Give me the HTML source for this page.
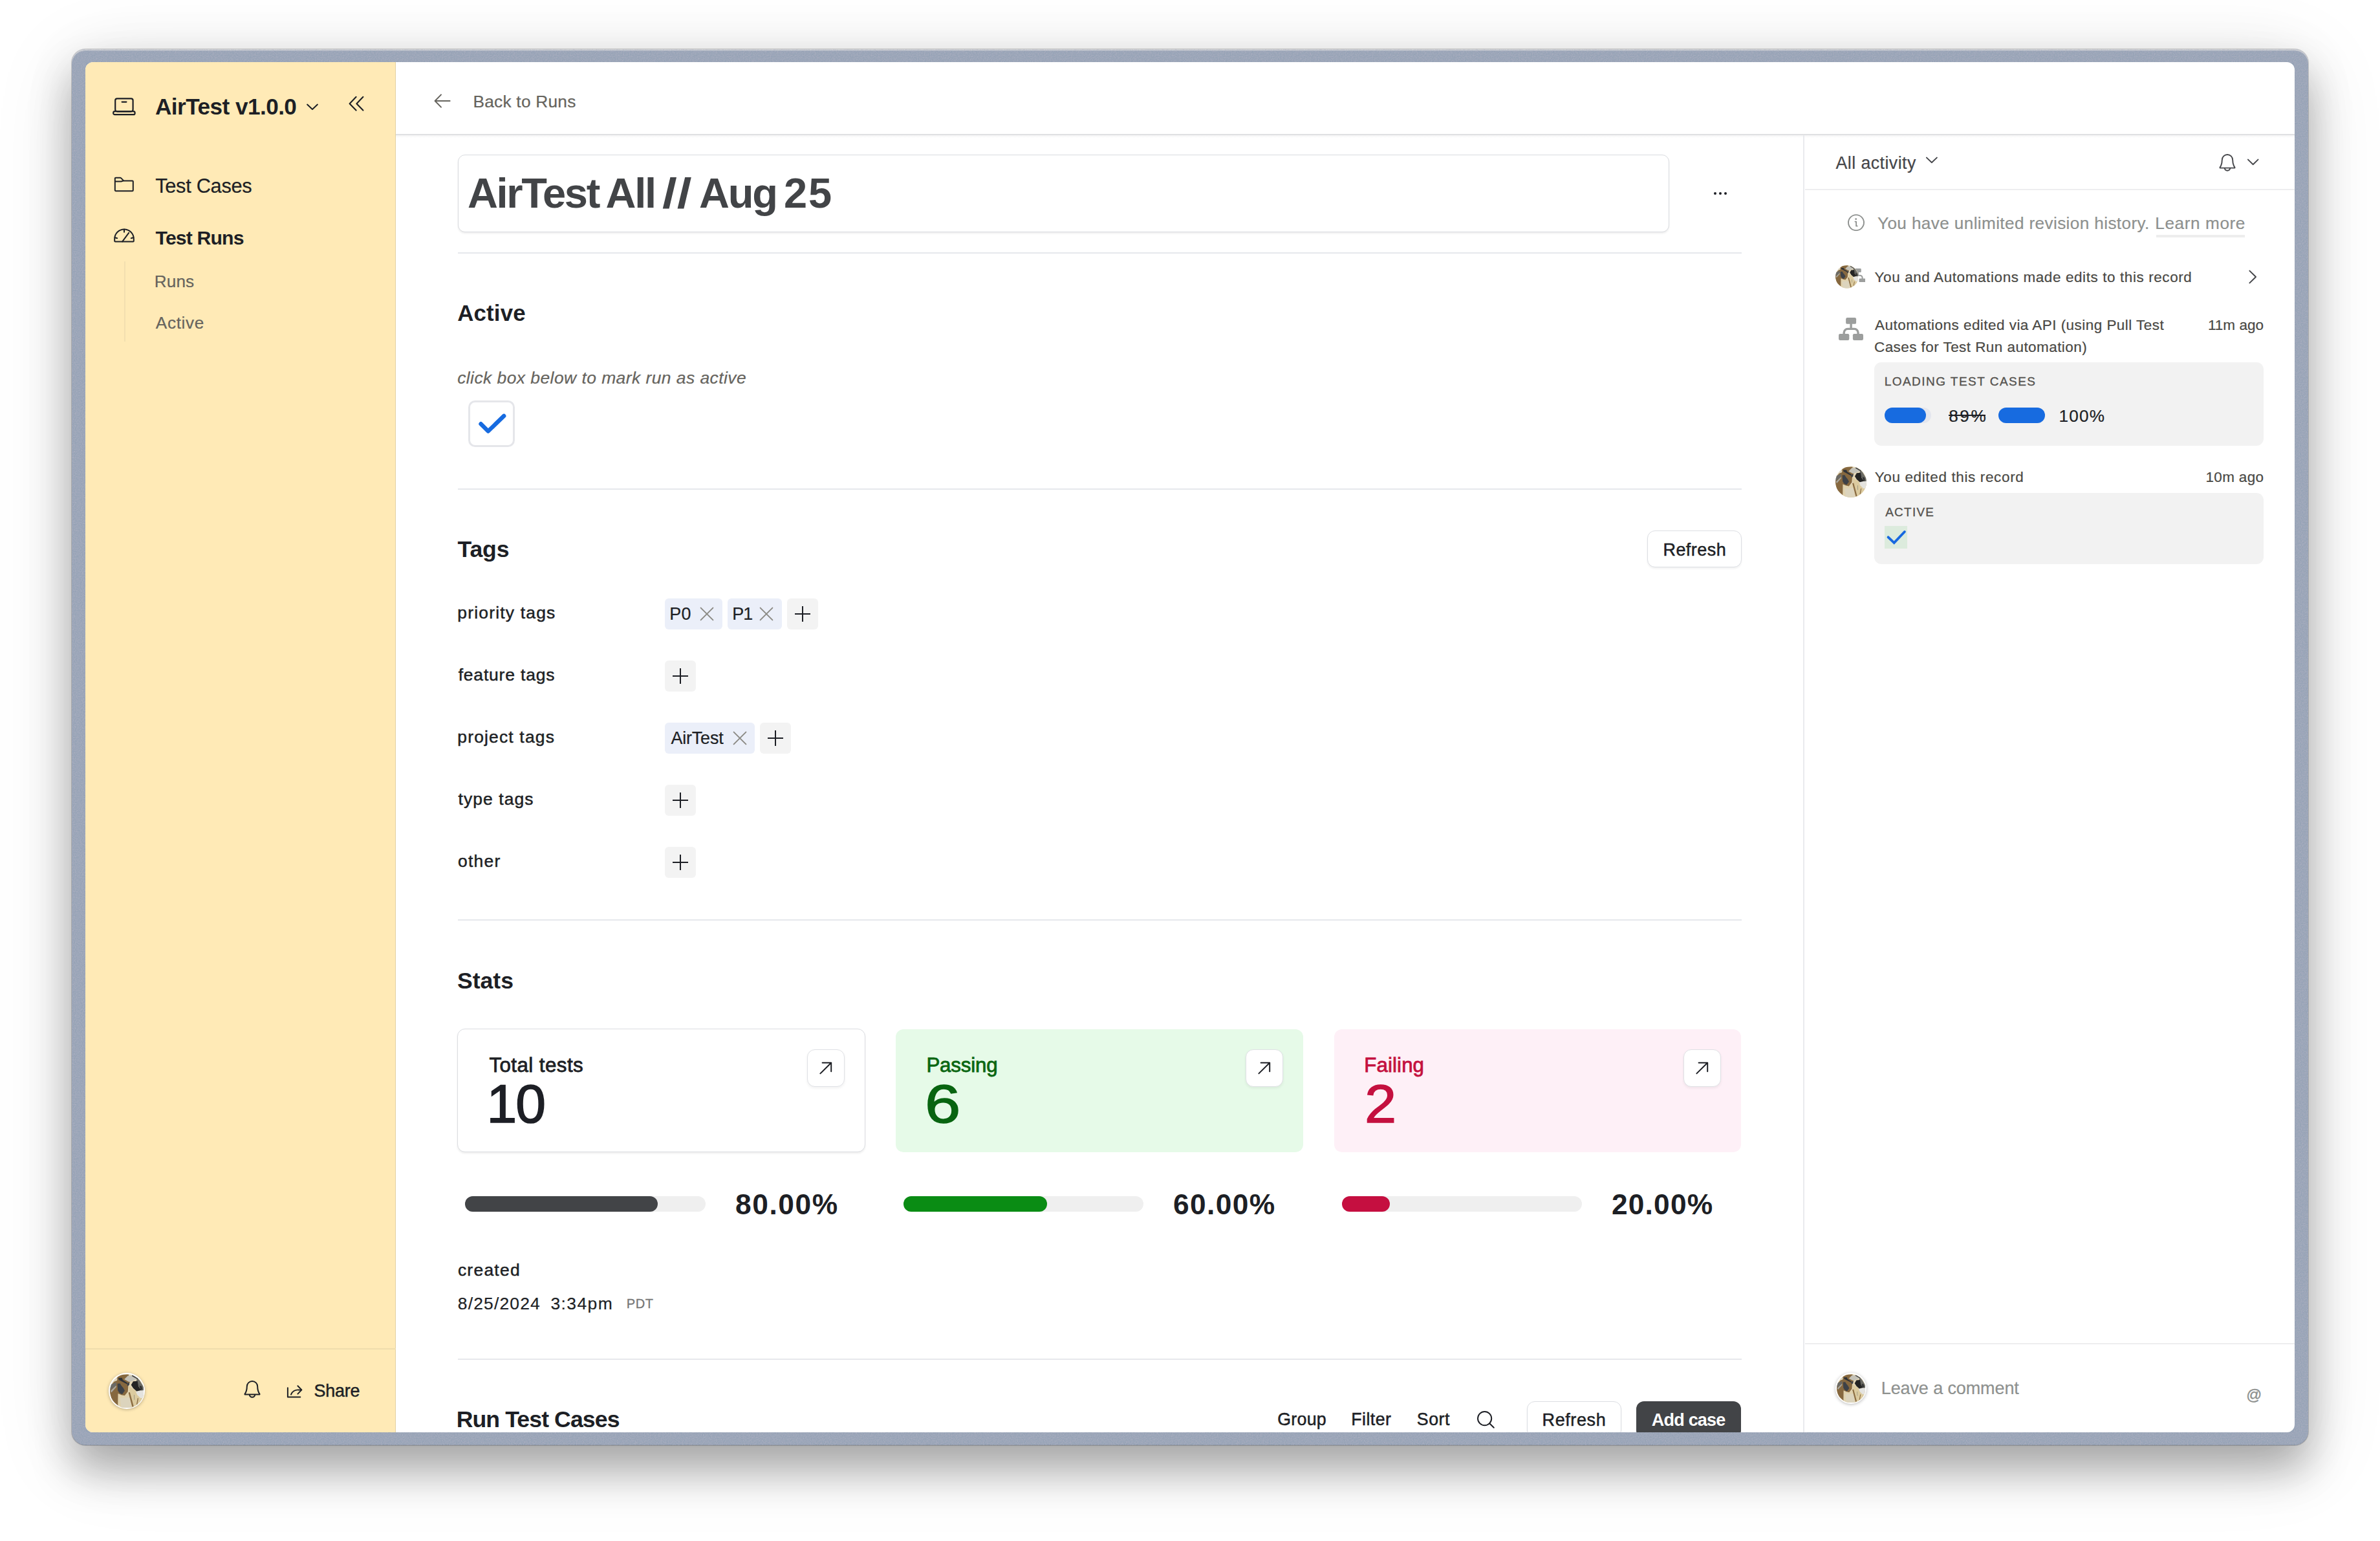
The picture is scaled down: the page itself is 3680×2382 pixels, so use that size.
<!DOCTYPE html>
<html lang="en"><head><meta charset="utf-8"><title>AirTest All // Aug 25</title>
<style>
html,body{margin:0;padding:0;background:#fff;}
body{width:3680px;height:2382px;position:relative;overflow:hidden;font-family:"Liberation Sans",sans-serif;}
.win{position:absolute;left:111px;top:76px;width:3458px;height:2158px;background:#96a3b6;border-radius:21px;
 box-shadow:0 0 0 1px rgba(0,0,0,.16),0 40px 64px rgba(0,0,0,.27),0 8px 90px rgba(0,0,0,.06),0 22px 130px rgba(0,0,0,.10);}
.win:before{content:"";position:absolute;left:0;top:0;right:0;bottom:0;border-radius:21px;box-shadow:inset 0 2.2px 0 rgba(222,222,222,.8),inset 0 -1px 0 rgba(0,0,0,.12);}
.nz{position:absolute;left:0;top:0;width:100%;height:100%;border-radius:21px;overflow:hidden;opacity:.8;}
.app{position:absolute;left:132px;top:96px;width:3416px;height:2118px;border-radius:12px;overflow:hidden;background:#fff;}
.g{position:absolute;left:-132px;top:-96px;width:3680px;height:2382px;}
.r{position:absolute;box-sizing:border-box;}
.t{position:absolute;white-space:pre;line-height:1;}
.w{position:static;font-size:0;}
</style></head><body>
<div class="win"><svg class="nz" width="3458" height="2158"><defs><filter id="nzf" x="0" y="0" width="100%" height="100%"><feTurbulence type="fractalNoise" baseFrequency="0.55" numOctaves="2" seed="7" result="n"/><feColorMatrix type="matrix" values="0 0 0 0 0.45  0 0 0 0 0.45  0 0 0 0 0.55  0.9 0.9 0.9 0 -1.05"/></filter></defs><rect x="0" y="0" width="3458" height="21" filter="url(#nzf)"/><rect x="0" y="2137" width="3458" height="21" filter="url(#nzf)"/><rect x="0" y="21" width="22" height="2116" filter="url(#nzf)"/><rect x="3436" y="21" width="22" height="2116" filter="url(#nzf)"/></svg></div>
<div class="app"><div class="g">
<div class="r" style="left:132.00px;top:96.00px;width:480.00px;height:2118.00px;background:#ffeab6;"></div>
<div class="r" style="left:611.00px;top:96.00px;width:1.20px;height:2118.00px;background:#e3d1a3;"></div>
<div class="r" style="left:132.00px;top:2084.30px;width:480.00px;height:1.40px;background:#efddad;"></div>
<svg width="0" height="0" style="position:absolute"><defs><clipPath id="avc"><circle cx="770" cy="787" r="516"/></clipPath></defs></svg>
<svg class="r" style="left:170.00px;top:146.00px;" width="44" height="36" viewBox="0 0 44 36" fill="none"><rect x="8.2" y="6.3" width="27.4" height="20" rx="3" stroke="#1d1f25" stroke-width="2.2"/><rect x="5.2" y="26.2" width="33.4" height="5" rx="2.3" stroke="#1d1f25" stroke-width="2.2"/><path d="M18.6 11.6h6.8" stroke="#1d1f25" stroke-width="2.2" stroke-linecap="round"/></svg>
<span class="t" style="left:240.04px;top:147.30px;font-size:35.17px;letter-spacing:-0.550px;color:#1d1f25;font-weight:700;">AirTest v1.0.0</span>
<svg class="r" style="left:470.00px;top:156.00px;" width="26" height="18" viewBox="0 0 26 18" fill="none"><path d="M5.1 5.6l7.9 7.3 7.9-7.3" stroke="#1d1f25" stroke-width="2" stroke-linecap="round" stroke-linejoin="round"/></svg>
<svg class="r" style="left:536.00px;top:145.00px;" width="30" height="30" viewBox="0 0 30 30" fill="none"><path d="M14.6 4.8L4.6 15.2l10 10.4M25.4 4.8L15.4 15.2l10 10.4" stroke="#1d1f25" stroke-width="2.1" stroke-linecap="round" stroke-linejoin="round"/></svg>
<svg class="r" style="left:172.00px;top:268.00px;" width="40" height="32" viewBox="0 0 40 32" fill="none"><path d="M5.8 9.6V26a1.2 1.2 0 0 0 1.2 1.2h25.6a1.2 1.2 0 0 0 1.2-1.2V12.6a1.2 1.2 0 0 0-1.2-1.2H19.2l-4.2-4.3a1.4 1.4 0 0 0-1-.4H7a1.2 1.2 0 0 0-1.2 1.2z" stroke="#1d1f25" stroke-width="2" stroke-linejoin="round"/><path d="M5.8 12.6h9.2a1.4 1.4 0 0 0 1-.4l3.2-.8" stroke="#1d1f25" stroke-width="2" stroke-linejoin="round"/></svg>
<span class="t" style="left:240.22px;top:273.10px;font-size:30.81px;letter-spacing:-0.315px;color:#1d1f25;-webkit-text-stroke:0.22px #1d1f25;">Test Cases</span>
<svg class="r" style="left:172.00px;top:348.00px;" width="40" height="30" viewBox="0 0 40 30" fill="none"><path d="M5.2 24.6v-3.4a14.8 14.8 0 0 1 29.6 0v3.4a1 1 0 0 1-1 1H6.2a1 1 0 0 1-1-1z" stroke="#1d1f25" stroke-width="2" stroke-linejoin="round"/><path d="M20 6.6v4.2M5.6 19.2l3.6 1M34.4 19.2l-3.6 1M17.2 25.4l10-13.6" stroke="#1d1f25" stroke-width="2" stroke-linecap="round"/></svg>
<span class="t" style="left:240.57px;top:353.00px;font-size:30.23px;letter-spacing:-0.867px;color:#1d1f25;font-weight:700;">Test Runs</span>
<div class="r" style="left:192.00px;top:404.20px;width:1.50px;height:123.60px;background:#f2dfaf;"></div>
<span class="t" style="left:238.75px;top:421.70px;font-size:26.16px;letter-spacing:0.103px;color:#66645e;-webkit-text-stroke:0.22px #66645e;">Runs</span>
<span class="t" style="left:240.86px;top:486.30px;font-size:26.16px;letter-spacing:0.650px;color:#66645e;-webkit-text-stroke:0.22px #66645e;">Active</span>
<div class="r" style="left:167.95px;top:2121.75px;width:56.50px;height:56.50px;border-radius:50%;background:#fff;box-shadow:0 1px 5px rgba(0,0,0,.28);"></div>
<svg class="r" style="left:169.95px;top:2123.75px" width="52.50" height="52.50" viewBox="254 271 1032 1032"><circle cx="770" cy="787" r="516" fill="#e3d6b6"/><g clip-path="url(#avc)"><polygon points="500,860 900,840 960,1320 480,1320" fill="#e0d2ae"/><polygon points="820,640 1060,790 1300,780 1300,1000 1150,1200 950,1300 880,1000" fill="#dccb9f"/><polygon points="1040,800 1300,740 1300,1000 1180,1000 1080,900" fill="#e4e3df"/><polygon points="560,1000 860,980 900,1300 600,1300" fill="#d9d6cb" opacity=".55"/><polygon points="520,290 820,280 860,500 810,640 800,800 700,925 600,905 500,860 495,1230 300,1050 240,800 330,560 450,420" fill="#86683f"/><polygon points="240,600 450,520 445,620 250,760" fill="#6b6a66"/><polygon points="270,780 440,620 450,660 300,830" fill="#a9a9a3"/><polygon points="690,430 800,320 1010,320 1060,430 900,490 830,505" fill="#c4c2b8"/><polygon points="360,440 480,400 470,470 370,500" fill="#ddd6c0"/><polygon points="480,560 560,555 600,620 665,700 705,775 625,885 545,845 492,765" fill="#3d4147"/><polygon points="510,385 620,385 645,450 790,540 770,575 600,485 520,445" fill="#2f3237"/><polygon points="770,560 850,520 840,600 790,640" fill="#3d4147"/><polygon points="1080,380 1160,470 1300,700 1300,760 1200,770 1100,600 1060,480" fill="#6a6a64"/><polygon points="960,490 1092,480 1120,640 1200,760 1065,792 960,700 898,600" fill="#242424"/><polygon points="1150,620 1220,640 1240,740 1180,760" fill="#333"/><polygon points="930,300 1100,400 1090,430 920,330" fill="#3a3a3a"/><polygon points="815,830 860,820 975,1250 930,1270" fill="#8a6c42"/><polygon points="1060,1190 1095,1000 1120,1010 1085,1200" fill="#8a6c42"/><polygon points="985,900 1000,900 1005,1050 990,1050" fill="#8d8a7c"/></g></svg>
<svg class="r" style="left:374.00px;top:2129.40px;" width="32" height="34" viewBox="0 0 32 34" fill="none"><path d="M4.6 25.6c2.6-3.6 3.2-7 3.2-11.4a8.2 8.2 0 0 1 16.4 0c0 4.4.6 7.8 3.2 11.4a.6.6 0 0 1-.5 1H5.1a.6.6 0 0 1-.5-1z" stroke="#1d1f25" stroke-width="2.0" stroke-linejoin="round"/><path d="M11.8 27.4a4.3 4.3 0 0 0 8.4 0" stroke="#1d1f25" stroke-width="2.0" stroke-linecap="round"/></svg>
<svg class="r" style="left:440.00px;top:2136.00px;" width="32" height="28" viewBox="0 0 32 28" fill="none"><path d="M4.9 9.3V23.5H24.3" stroke="#1d1f25" stroke-width="2" stroke-linecap="round" stroke-linejoin="round"/><path d="M20.4 6.2l6 6.2-6 6.2" stroke="#1d1f25" stroke-width="2" stroke-linecap="round" stroke-linejoin="round"/><path d="M25.8 12.4h-4.4a11.6 11.6 0 0 0-11.4 7.2" stroke="#1d1f25" stroke-width="2" stroke-linecap="round"/></svg>
<span class="t" style="left:485.59px;top:2137.11px;font-size:26.89px;letter-spacing:-0.215px;color:#1d1f25;-webkit-text-stroke:0.5px #1d1f25;">Share</span>
<div class="r" style="left:612.00px;top:207.40px;width:2936.00px;height:1.80px;background:#e0e1e3;"></div>
<div class="r" style="left:612.00px;top:209.20px;width:2936.00px;height:4.00px;background:linear-gradient(#f3f3f4,#fff);"></div>
<svg class="r" style="left:668.00px;top:142.00px;" width="32" height="28" viewBox="0 0 32 28" fill="none"><path d="M27.6 14H5.2M14 4.4L4.6 14l9.4 9.6" stroke="#66645e" stroke-width="2" stroke-linecap="round" stroke-linejoin="round"/></svg>
<span class="t" style="left:731.44px;top:143.81px;font-size:26.31px;letter-spacing:0.231px;color:#66645e;-webkit-text-stroke:0.22px #66645e;">Back to Runs</span>
<div class="r" style="left:707.60px;top:239.30px;width:1873.60px;height:119.50px;background:#fff;border:1.6px solid #d9dbdf;border-radius:11px;box-shadow:0 2px 3px rgba(0,0,0,.07);"></div>
<span class="w"><span class="t" style="left:722.91px;top:267.10px;font-size:64.97px;letter-spacing:-2.274px;color:#424447;font-weight:700;">AirTest</span> <span class="t" style="left:936.61px;top:267.10px;font-size:64.97px;letter-spacing:-2.274px;color:#424447;font-weight:700;">All</span> <span class="t" style="left:1023.72px;top:267.10px;font-size:64.97px;letter-spacing:0.000px;color:#424447;font-weight:700;transform:scaleX(1.2640);transform-origin:0 0;">//</span> <span class="t" style="left:1081.11px;top:267.10px;font-size:64.97px;letter-spacing:-2.274px;color:#424447;font-weight:700;">Aug</span> <span class="t" style="left:1212.06px;top:267.10px;font-size:64.97px;letter-spacing:1.881px;color:#424447;font-weight:700;">25</span></span>
<div class="r" style="left:2649.90px;top:296.90px;width:4.00px;height:4.00px;background:#1d1f25;border-radius:50%;"></div>
<div class="r" style="left:2657.90px;top:296.90px;width:4.00px;height:4.00px;background:#1d1f25;border-radius:50%;"></div>
<div class="r" style="left:2665.90px;top:296.90px;width:4.00px;height:4.00px;background:#1d1f25;border-radius:50%;"></div>
<div class="r" style="left:708.00px;top:390.00px;width:1984.50px;height:2.00px;background:#e6e8ec;"></div>
<div class="r" style="left:708.00px;top:755.00px;width:1984.50px;height:2.00px;background:#e6e8ec;"></div>
<div class="r" style="left:708.00px;top:1420.50px;width:1984.50px;height:2.00px;background:#e6e8ec;"></div>
<div class="r" style="left:708.00px;top:2100.00px;width:1984.50px;height:2.00px;background:#e6e8ec;"></div>
<span class="t" style="left:707.15px;top:467.30px;font-size:34.88px;letter-spacing:0.167px;color:#1d1f25;font-weight:700;">Active</span>
<span class="t" style="left:707.14px;top:570.80px;font-size:26.45px;letter-spacing:0.446px;color:#66645e;font-style:italic;-webkit-text-stroke:0.22px #66645e;">click box below to mark run as active</span>
<div class="r" style="left:724.00px;top:619.00px;width:72.00px;height:72.00px;background:#fff;border:3.5px solid #e5e6ea;border-radius:10.5px;"></div>
<svg class="r" style="left:730.00px;top:625.00px;" width="60" height="60" viewBox="0 0 60 60" fill="none"><path d="M13.5 30.2L24.8 41.5 49.2 17.9" stroke="#176be0" stroke-width="6.4" stroke-linecap="round" stroke-linejoin="round"/></svg>
<span class="t" style="left:707.61px;top:832.30px;font-size:35.61px;letter-spacing:-0.209px;color:#1d1f25;font-weight:700;">Tags</span>
<div class="r" style="left:2547.30px;top:820.30px;width:145.30px;height:57.00px;background:#fff;border:1.6px solid #dcdee3;border-radius:12px;box-shadow:0 2px 3px rgba(0,0,0,.06);"></div>
<span class="t" style="left:2571.48px;top:837.10px;font-size:27.03px;letter-spacing:0.433px;color:#1d1f25;-webkit-text-stroke:0.5px #1d1f25;">Refresh</span>
<span class="t" style="left:707.31px;top:933.71px;font-size:26.45px;letter-spacing:1.193px;color:#1d1f25;-webkit-text-stroke:0.5px #1d1f25;">priority tags</span>
<span class="t" style="left:708.63px;top:1029.71px;font-size:26.45px;letter-spacing:0.837px;color:#1d1f25;-webkit-text-stroke:0.5px #1d1f25;">feature tags</span>
<span class="t" style="left:707.31px;top:1125.71px;font-size:26.45px;letter-spacing:1.172px;color:#1d1f25;-webkit-text-stroke:0.5px #1d1f25;">project tags</span>
<span class="t" style="left:708.60px;top:1221.71px;font-size:26.45px;letter-spacing:1.063px;color:#1d1f25;-webkit-text-stroke:0.5px #1d1f25;">type tags</span>
<span class="t" style="left:707.90px;top:1317.71px;font-size:26.45px;letter-spacing:1.308px;color:#1d1f25;-webkit-text-stroke:0.5px #1d1f25;">other</span>
<div class="r" style="left:1028.00px;top:925.00px;width:89.00px;height:47.80px;background:#ebeff9;border-radius:6px;"></div>
<span class="t" style="left:1035.30px;top:936.31px;font-size:26.89px;letter-spacing:0.254px;color:#1d1f25;-webkit-text-stroke:0.22px #1d1f25;">P0</span>
<svg class="r" style="left:1080.40px;top:935.90px;" width="26" height="26" viewBox="0 0 26 26" fill="none"><path d="M3.6 3.6l18.8 18.8M22.4 3.6L3.6 22.4" stroke="#8b8a84" stroke-width="1.9" stroke-linecap="round"/></svg>
<div class="r" style="left:1125.00px;top:925.00px;width:84.20px;height:47.80px;background:#ebeff9;border-radius:6px;"></div>
<span class="t" style="left:1132.30px;top:936.31px;font-size:26.89px;letter-spacing:-0.941px;color:#1d1f25;-webkit-text-stroke:0.22px #1d1f25;">P1</span>
<svg class="r" style="left:1172.10px;top:935.90px;" width="26" height="26" viewBox="0 0 26 26" fill="none"><path d="M3.6 3.6l18.8 18.8M22.4 3.6L3.6 22.4" stroke="#8b8a84" stroke-width="1.9" stroke-linecap="round"/></svg>
<div class="r" style="left:1217.10px;top:925.00px;width:47.80px;height:47.80px;background:#f3f3f3;border-radius:6px;"></div>
<div class="r" style="left:1229.30px;top:947.80px;width:23.40px;height:2.20px;background:#1d1f25;"></div>
<div class="r" style="left:1239.90px;top:937.20px;width:2.20px;height:23.40px;background:#1d1f25;"></div>
<div class="r" style="left:1028.00px;top:1021.00px;width:47.80px;height:47.80px;background:#f3f3f3;border-radius:6px;"></div>
<div class="r" style="left:1040.20px;top:1043.80px;width:23.40px;height:2.20px;background:#1d1f25;"></div>
<div class="r" style="left:1050.80px;top:1033.20px;width:2.20px;height:23.40px;background:#1d1f25;"></div>
<div class="r" style="left:1028.00px;top:1117.00px;width:138.70px;height:47.80px;background:#ebeff9;border-radius:6px;"></div>
<span class="t" style="left:1037.46px;top:1128.31px;font-size:26.89px;letter-spacing:-0.160px;color:#1d1f25;-webkit-text-stroke:0.22px #1d1f25;">AirTest</span>
<svg class="r" style="left:1131.00px;top:1127.90px;" width="26" height="26" viewBox="0 0 26 26" fill="none"><path d="M3.6 3.6l18.8 18.8M22.4 3.6L3.6 22.4" stroke="#8b8a84" stroke-width="1.9" stroke-linecap="round"/></svg>
<div class="r" style="left:1175.00px;top:1117.00px;width:47.80px;height:47.80px;background:#f3f3f3;border-radius:6px;"></div>
<div class="r" style="left:1187.20px;top:1139.80px;width:23.40px;height:2.20px;background:#1d1f25;"></div>
<div class="r" style="left:1197.80px;top:1129.20px;width:2.20px;height:23.40px;background:#1d1f25;"></div>
<div class="r" style="left:1028.00px;top:1213.00px;width:47.80px;height:47.80px;background:#f3f3f3;border-radius:6px;"></div>
<div class="r" style="left:1040.20px;top:1235.80px;width:23.40px;height:2.20px;background:#1d1f25;"></div>
<div class="r" style="left:1050.80px;top:1225.20px;width:2.20px;height:23.40px;background:#1d1f25;"></div>
<div class="r" style="left:1028.00px;top:1309.00px;width:47.80px;height:47.80px;background:#f3f3f3;border-radius:6px;"></div>
<div class="r" style="left:1040.20px;top:1331.80px;width:23.40px;height:2.20px;background:#1d1f25;"></div>
<div class="r" style="left:1050.80px;top:1321.20px;width:2.20px;height:23.40px;background:#1d1f25;"></div>
<span class="t" style="left:706.99px;top:1498.80px;font-size:35.61px;letter-spacing:-0.028px;color:#1d1f25;font-weight:700;">Stats</span>
<div class="r" style="left:707.40px;top:1590.00px;width:631.00px;height:191.40px;background:#fff;border:1.6px solid #dbdde1;border-radius:12px;box-shadow:0 2px 3px rgba(0,0,0,.07);"></div>
<div class="r" style="left:1384.80px;top:1590.80px;width:630.20px;height:190.20px;background:#e6fae8;border-radius:12px;"></div>
<div class="r" style="left:2062.90px;top:1590.80px;width:629.30px;height:190.20px;background:#fef0f7;border-radius:12px;"></div>
<div class="r" style="left:1248.00px;top:1622.20px;width:57.60px;height:57.60px;background:#fff;border:1.6px solid #dfe1e5;border-radius:12px;box-shadow:0 2px 4px rgba(0,0,0,.06);"></div>
<svg class="r" style="left:1262.00px;top:1636.20px;" width="30" height="30" viewBox="0 0 30 30" fill="none"><path d="M6.4 23.4L23.2 6.8M9.6 6.8h13.6v13.4" stroke="#1d1f25" stroke-width="2" stroke-linecap="round" stroke-linejoin="round"/></svg>
<div class="r" style="left:1926.00px;top:1622.20px;width:57.60px;height:57.60px;background:#fff;border:1.6px solid #dfe1e5;border-radius:12px;box-shadow:0 2px 4px rgba(0,0,0,.06);"></div>
<svg class="r" style="left:1940.00px;top:1636.20px;" width="30" height="30" viewBox="0 0 30 30" fill="none"><path d="M6.4 23.4L23.2 6.8M9.6 6.8h13.6v13.4" stroke="#1d1f25" stroke-width="2" stroke-linecap="round" stroke-linejoin="round"/></svg>
<div class="r" style="left:2603.40px;top:1622.20px;width:57.60px;height:57.60px;background:#fff;border:1.6px solid #dfe1e5;border-radius:12px;box-shadow:0 2px 4px rgba(0,0,0,.06);"></div>
<svg class="r" style="left:2617.40px;top:1636.20px;" width="30" height="30" viewBox="0 0 30 30" fill="none"><path d="M6.4 23.4L23.2 6.8M9.6 6.8h13.6v13.4" stroke="#1d1f25" stroke-width="2" stroke-linecap="round" stroke-linejoin="round"/></svg>
<span class="t" style="left:756.41px;top:1631.41px;font-size:31.25px;letter-spacing:0.462px;color:#1d1f25;-webkit-text-stroke:0.8px #1d1f25;">Total tests</span>
<span class="t" style="left:752.62px;top:1664.21px;font-size:84.01px;letter-spacing:-2.102px;color:#1d1f25;-webkit-text-stroke:1.6px #1d1f25;">10</span>
<span class="t" style="left:1432.44px;top:1631.41px;font-size:31.25px;letter-spacing:-0.168px;color:#0a6611;-webkit-text-stroke:0.8px #0a6611;">Passing</span>
<span class="t" style="left:1430.28px;top:1664.21px;font-size:84.01px;letter-spacing:0.000px;color:#086410;-webkit-text-stroke:1.4px #086410;transform:scaleX(1.1826);transform-origin:0 0;">6</span>
<span class="t" style="left:2109.24px;top:1631.41px;font-size:31.25px;letter-spacing:0.119px;color:#c4103f;-webkit-text-stroke:0.8px #c4103f;">Failing</span>
<span class="t" style="left:2109.68px;top:1664.21px;font-size:84.01px;letter-spacing:0.000px;color:#c4103f;-webkit-text-stroke:1.4px #c4103f;transform:scaleX(1.0520);transform-origin:0 0;">2</span>
<div class="r" style="left:719.40px;top:1848.70px;width:371.50px;height:24.40px;background:#efefef;border-radius:12.2px;"></div>
<div class="r" style="left:719.40px;top:1848.70px;width:297.20px;height:24.40px;background:#424447;border-radius:12.2px;"></div>
<div class="r" style="left:1396.60px;top:1848.70px;width:371.50px;height:24.40px;background:#efefef;border-radius:12.2px;"></div>
<div class="r" style="left:1396.60px;top:1848.70px;width:222.90px;height:24.40px;background:#0a8c14;border-radius:12.2px;"></div>
<div class="r" style="left:2074.70px;top:1848.70px;width:371.50px;height:24.40px;background:#efefef;border-radius:12.2px;"></div>
<div class="r" style="left:2074.70px;top:1848.70px;width:74.30px;height:24.40px;background:#c50f40;border-radius:12.2px;"></div>
<span class="t" style="left:1137.10px;top:1839.80px;font-size:44.33px;letter-spacing:1.540px;color:#1d1f25;font-weight:700;">80.00%</span>
<span class="t" style="left:1813.98px;top:1839.80px;font-size:44.33px;letter-spacing:1.364px;color:#1d1f25;font-weight:700;">60.00%</span>
<span class="t" style="left:2491.97px;top:1839.80px;font-size:44.33px;letter-spacing:1.166px;color:#1d1f25;font-weight:700;">20.00%</span>
<span class="t" style="left:707.89px;top:1949.80px;font-size:26.45px;letter-spacing:1.261px;color:#1d1f25;-webkit-text-stroke:0.5px #1d1f25;">created</span>
<span class="t" style="left:707.86px;top:2001.90px;font-size:26.45px;letter-spacing:1.153px;color:#1d1f25;-webkit-text-stroke:0.22px #1d1f25;">8/25/2024</span>
<span class="t" style="left:851.49px;top:2001.90px;font-size:26.45px;letter-spacing:1.400px;color:#1d1f25;-webkit-text-stroke:0.22px #1d1f25;">3:34pm</span>
<span class="t" style="left:968.86px;top:2004.91px;font-size:20.06px;letter-spacing:0.495px;color:#777;-webkit-text-stroke:0.3px #777;">PDT</span>
<span class="t" style="left:705.63px;top:2177.30px;font-size:35.61px;letter-spacing:-0.900px;color:#1d1f25;font-weight:700;">Run Test Cases</span>
<span class="t" style="left:1975.16px;top:2181.21px;font-size:26.74px;letter-spacing:0.306px;color:#1d1f25;-webkit-text-stroke:0.5px #1d1f25;">Group</span>
<span class="t" style="left:2089.31px;top:2181.21px;font-size:26.74px;letter-spacing:0.442px;color:#1d1f25;-webkit-text-stroke:0.5px #1d1f25;">Filter</span>
<span class="t" style="left:2190.80px;top:2181.21px;font-size:26.74px;letter-spacing:0.514px;color:#1d1f25;-webkit-text-stroke:0.5px #1d1f25;">Sort</span>
<svg class="r" style="left:2280.00px;top:2177.00px;" width="34" height="34" viewBox="0 0 34 34" fill="none"><circle cx="15.6" cy="15.6" r="10.6" stroke="#1d1f25" stroke-width="2"/><path d="M23.2 23.2l6.6 6.6" stroke="#1d1f25" stroke-width="2" stroke-linecap="round"/></svg>
<div class="r" style="left:2361.30px;top:2165.50px;width:146.00px;height:57.00px;background:#fff;border:1.6px solid #dcdee3;border-radius:12px;box-shadow:0 2px 3px rgba(0,0,0,.06);"></div>
<span class="t" style="left:2384.58px;top:2182.21px;font-size:27.03px;letter-spacing:0.583px;color:#1d1f25;-webkit-text-stroke:0.5px #1d1f25;">Refresh</span>
<div class="r" style="left:2529.60px;top:2166.00px;width:162.40px;height:57.00px;background:#424447;border-radius:12px;"></div>
<span class="t" style="left:2553.84px;top:2182.21px;font-size:27.03px;letter-spacing:-0.802px;color:#fff;font-weight:700;">Add case</span>
<div class="r" style="left:2787.70px;top:209.00px;width:1.90px;height:2005.00px;background:#e9eaee;"></div>
<div class="r" style="left:2790.60px;top:291.60px;width:758.00px;height:2.00px;background:#eeeeef;"></div>
<div class="r" style="left:2790.60px;top:2075.80px;width:758.00px;height:2.00px;background:#eeeeef;"></div>
<span class="t" style="left:2838.46px;top:238.51px;font-size:26.74px;letter-spacing:0.454px;color:#45464a;-webkit-text-stroke:0.22px #45464a;">All activity</span>
<svg class="r" style="left:2974.00px;top:238.00px;" width="26" height="18" viewBox="0 0 26 18" fill="none"><path d="M4.9 5.6l8 7.6 8-7.6" stroke="#45464a" stroke-width="1.9" stroke-linecap="round" stroke-linejoin="round"/></svg>
<svg class="r" style="left:3427.80px;top:233.00px;" width="32" height="34" viewBox="0 0 32 34" fill="none"><path d="M4.6 25.6c2.6-3.6 3.2-7 3.2-11.4a8.2 8.2 0 0 1 16.4 0c0 4.4.6 7.8 3.2 11.4a.6.6 0 0 1-.5 1H5.1a.6.6 0 0 1-.5-1z" stroke="#45464a" stroke-width="1.9" stroke-linejoin="round"/><path d="M11.8 27.4a4.3 4.3 0 0 0 8.4 0" stroke="#45464a" stroke-width="1.9" stroke-linecap="round"/></svg>
<svg class="r" style="left:3471.00px;top:241.00px;" width="26" height="18" viewBox="0 0 26 18" fill="none"><path d="M4.9 5.6l7.8 7.6 7.8-7.6" stroke="#45464a" stroke-width="1.9" stroke-linecap="round" stroke-linejoin="round"/></svg>
<svg class="r" style="left:2854.00px;top:328.00px;" width="32" height="32" viewBox="0 0 32 32" fill="none"><circle cx="16" cy="16.1" r="12" stroke="#8e918f" stroke-width="1.9"/><path d="M14.4 14.6h1.7v6.8h1.6" stroke="#8e918f" stroke-width="1.8" stroke-linecap="round" stroke-linejoin="round"/><circle cx="15.7" cy="10.6" r="1.4" fill="#8e918f"/></svg>
<span class="t" style="left:2903.02px;top:332.11px;font-size:26.16px;letter-spacing:0.376px;color:#8e918f;-webkit-text-stroke:0.22px #8e918f;">You have unlimited revision history.</span>
<span class="t" style="left:3332.35px;top:332.11px;font-size:26.16px;letter-spacing:0.590px;color:#8e918f;-webkit-text-stroke:0.22px #8e918f;">Learn more</span>
<div class="r" style="left:3334.00px;top:363.40px;width:136.50px;height:3.60px;background:#ededed;"></div>
<svg class="r" style="left:2860.50px;top:414.50px;" width="23.56" height="21.7" viewBox="0 0 38.2 35" fill="none"><rect x="11.2" y="0" width="16" height="9.8" rx="2.2" fill="#9c9e9d"/><rect x="0" y="25" width="16.4" height="10" rx="2.2" fill="#9c9e9d"/><rect x="22" y="25" width="16.2" height="10" rx="2.2" fill="#9c9e9d"/><path d="M19.2 9v8M8.2 26v-2.6a6 6 0 0 1 6-6h10a6 6 0 0 1 6 6V26" stroke="#9c9e9d" stroke-width="3.4"/></svg>
<svg class="r" style="left:2837.75px;top:410.05px" width="35.50" height="35.50" viewBox="254 271 1032 1032"><circle cx="770" cy="787" r="516" fill="#e3d6b6"/><g clip-path="url(#avc)"><polygon points="500,860 900,840 960,1320 480,1320" fill="#e0d2ae"/><polygon points="820,640 1060,790 1300,780 1300,1000 1150,1200 950,1300 880,1000" fill="#dccb9f"/><polygon points="1040,800 1300,740 1300,1000 1180,1000 1080,900" fill="#e4e3df"/><polygon points="560,1000 860,980 900,1300 600,1300" fill="#d9d6cb" opacity=".55"/><polygon points="520,290 820,280 860,500 810,640 800,800 700,925 600,905 500,860 495,1230 300,1050 240,800 330,560 450,420" fill="#86683f"/><polygon points="240,600 450,520 445,620 250,760" fill="#6b6a66"/><polygon points="270,780 440,620 450,660 300,830" fill="#a9a9a3"/><polygon points="690,430 800,320 1010,320 1060,430 900,490 830,505" fill="#c4c2b8"/><polygon points="360,440 480,400 470,470 370,500" fill="#ddd6c0"/><polygon points="480,560 560,555 600,620 665,700 705,775 625,885 545,845 492,765" fill="#3d4147"/><polygon points="510,385 620,385 645,450 790,540 770,575 600,485 520,445" fill="#2f3237"/><polygon points="770,560 850,520 840,600 790,640" fill="#3d4147"/><polygon points="1080,380 1160,470 1300,700 1300,760 1200,770 1100,600 1060,480" fill="#6a6a64"/><polygon points="960,490 1092,480 1120,640 1200,760 1065,792 960,700 898,600" fill="#242424"/><polygon points="1150,620 1220,640 1240,740 1180,760" fill="#333"/><polygon points="930,300 1100,400 1090,430 920,330" fill="#3a3a3a"/><polygon points="815,830 860,820 975,1250 930,1270" fill="#8a6c42"/><polygon points="1060,1190 1095,1000 1120,1010 1085,1200" fill="#8a6c42"/><polygon points="985,900 1000,900 1005,1050 990,1050" fill="#8d8a7c"/></g></svg>
<span class="t" style="left:2898.60px;top:418.42px;font-size:22.53px;letter-spacing:0.579px;color:#4a4945;-webkit-text-stroke:0.22px #4a4945;">You and Automations made edits to this record</span>
<svg class="r" style="left:3472.00px;top:414.00px;" width="22" height="28" viewBox="0 0 22 28" fill="none"><path d="M6.4 4.6l9.6 9.4-9.6 9.4" stroke="#45464a" stroke-width="2" stroke-linecap="round" stroke-linejoin="round"/></svg>
<svg class="r" style="left:2842.80px;top:491.00px;" width="38.0" height="35.0" viewBox="0 0 38.2 35" fill="none"><rect x="11.2" y="0" width="16" height="9.8" rx="2.2" fill="#9c9e9d"/><rect x="0" y="25" width="16.4" height="10" rx="2.2" fill="#9c9e9d"/><rect x="22" y="25" width="16.2" height="10" rx="2.2" fill="#9c9e9d"/><path d="M19.2 9v8M8.2 26v-2.6a6 6 0 0 1 6-6h10a6 6 0 0 1 6 6V26" stroke="#9c9e9d" stroke-width="3.4"/></svg>
<span class="t" style="left:2899.07px;top:492.31px;font-size:22.53px;letter-spacing:0.453px;color:#4a4945;-webkit-text-stroke:0.22px #4a4945;">Automations edited via API (using Pull Test</span>
<span class="t" style="left:2897.96px;top:525.92px;font-size:22.53px;letter-spacing:0.432px;color:#4a4945;-webkit-text-stroke:0.22px #4a4945;">Cases for Test Run automation)</span>
<span class="t" style="left:3413.89px;top:492.31px;font-size:22.53px;letter-spacing:0.040px;color:#4a4945;-webkit-text-stroke:0.22px #4a4945;">11m ago</span>
<div class="r" style="left:2898.00px;top:560.10px;width:602.00px;height:128.70px;background:#f2f2f2;border-radius:11px;"></div>
<span class="t" style="left:2913.64px;top:580.21px;font-size:19.04px;letter-spacing:1.454px;color:#55534f;-webkit-text-stroke:0.35px #55534f;">LOADING TEST CASES</span>
<div class="r" style="left:2914.10px;top:630.00px;width:71.60px;height:23.70px;background:#e4e6ee;border-radius:12px;"></div>
<div class="r" style="left:2914.10px;top:630.00px;width:63.72px;height:23.70px;background:#176be0;border-radius:12px;"></div>
<span class="t" style="left:3013.28px;top:629.91px;font-size:26.16px;letter-spacing:2.538px;color:#1d1f25;-webkit-text-stroke:0.22px #1d1f25;">89%</span>
<div class="r" style="left:3013.40px;top:641.40px;width:57.00px;height:2.10px;background:#1d1f25;"></div>
<div class="r" style="left:3090.20px;top:630.00px;width:71.60px;height:23.70px;background:#e4e6ee;border-radius:12px;"></div>
<div class="r" style="left:3090.20px;top:630.00px;width:71.60px;height:23.70px;background:#176be0;border-radius:12px;"></div>
<span class="t" style="left:3183.51px;top:629.91px;font-size:26.16px;letter-spacing:1.164px;color:#1d1f25;-webkit-text-stroke:0.22px #1d1f25;">100%</span>
<svg class="r" style="left:2838.00px;top:720.60px" width="48.00" height="48.00" viewBox="254 271 1032 1032"><circle cx="770" cy="787" r="516" fill="#e3d6b6"/><g clip-path="url(#avc)"><polygon points="500,860 900,840 960,1320 480,1320" fill="#e0d2ae"/><polygon points="820,640 1060,790 1300,780 1300,1000 1150,1200 950,1300 880,1000" fill="#dccb9f"/><polygon points="1040,800 1300,740 1300,1000 1180,1000 1080,900" fill="#e4e3df"/><polygon points="560,1000 860,980 900,1300 600,1300" fill="#d9d6cb" opacity=".55"/><polygon points="520,290 820,280 860,500 810,640 800,800 700,925 600,905 500,860 495,1230 300,1050 240,800 330,560 450,420" fill="#86683f"/><polygon points="240,600 450,520 445,620 250,760" fill="#6b6a66"/><polygon points="270,780 440,620 450,660 300,830" fill="#a9a9a3"/><polygon points="690,430 800,320 1010,320 1060,430 900,490 830,505" fill="#c4c2b8"/><polygon points="360,440 480,400 470,470 370,500" fill="#ddd6c0"/><polygon points="480,560 560,555 600,620 665,700 705,775 625,885 545,845 492,765" fill="#3d4147"/><polygon points="510,385 620,385 645,450 790,540 770,575 600,485 520,445" fill="#2f3237"/><polygon points="770,560 850,520 840,600 790,640" fill="#3d4147"/><polygon points="1080,380 1160,470 1300,700 1300,760 1200,770 1100,600 1060,480" fill="#6a6a64"/><polygon points="960,490 1092,480 1120,640 1200,760 1065,792 960,700 898,600" fill="#242424"/><polygon points="1150,620 1220,640 1240,740 1180,760" fill="#333"/><polygon points="930,300 1100,400 1090,430 920,330" fill="#3a3a3a"/><polygon points="815,830 860,820 975,1250 930,1270" fill="#8a6c42"/><polygon points="1060,1190 1095,1000 1120,1010 1085,1200" fill="#8a6c42"/><polygon points="985,900 1000,900 1005,1050 990,1050" fill="#8d8a7c"/></g></svg>
<span class="t" style="left:2898.70px;top:727.31px;font-size:22.53px;letter-spacing:0.626px;color:#4a4945;-webkit-text-stroke:0.22px #4a4945;">You edited this record</span>
<span class="t" style="left:3410.49px;top:727.31px;font-size:22.53px;letter-spacing:0.329px;color:#4a4945;-webkit-text-stroke:0.22px #4a4945;">10m ago</span>
<div class="r" style="left:2898.00px;top:762.10px;width:602.00px;height:109.70px;background:#f2f2f2;border-radius:11px;"></div>
<span class="t" style="left:2915.17px;top:783.31px;font-size:18.90px;letter-spacing:1.316px;color:#55534f;-webkit-text-stroke:0.35px #55534f;">ACTIVE</span>
<div class="r" style="left:2914.00px;top:813.00px;width:34.90px;height:34.80px;background:#dcebdd;"></div>
<svg class="r" style="left:2914.00px;top:813.00px;" width="35" height="35" viewBox="0 0 35 35" fill="none"><path d="M5.6 17.4l9.1 8.7L30.9 9" stroke="#1768e0" stroke-width="3.9" stroke-linecap="round" stroke-linejoin="miter"/></svg>
<div class="r" style="left:2837.80px;top:2121.80px;width:48.40px;height:48.40px;border-radius:50%;background:#fff;box-shadow:0 1px 5px rgba(0,0,0,.28);"></div>
<svg class="r" style="left:2839.80px;top:2123.80px" width="44.40" height="44.40" viewBox="254 271 1032 1032"><circle cx="770" cy="787" r="516" fill="#e3d6b6"/><g clip-path="url(#avc)"><polygon points="500,860 900,840 960,1320 480,1320" fill="#e0d2ae"/><polygon points="820,640 1060,790 1300,780 1300,1000 1150,1200 950,1300 880,1000" fill="#dccb9f"/><polygon points="1040,800 1300,740 1300,1000 1180,1000 1080,900" fill="#e4e3df"/><polygon points="560,1000 860,980 900,1300 600,1300" fill="#d9d6cb" opacity=".55"/><polygon points="520,290 820,280 860,500 810,640 800,800 700,925 600,905 500,860 495,1230 300,1050 240,800 330,560 450,420" fill="#86683f"/><polygon points="240,600 450,520 445,620 250,760" fill="#6b6a66"/><polygon points="270,780 440,620 450,660 300,830" fill="#a9a9a3"/><polygon points="690,430 800,320 1010,320 1060,430 900,490 830,505" fill="#c4c2b8"/><polygon points="360,440 480,400 470,470 370,500" fill="#ddd6c0"/><polygon points="480,560 560,555 600,620 665,700 705,775 625,885 545,845 492,765" fill="#3d4147"/><polygon points="510,385 620,385 645,450 790,540 770,575 600,485 520,445" fill="#2f3237"/><polygon points="770,560 850,520 840,600 790,640" fill="#3d4147"/><polygon points="1080,380 1160,470 1300,700 1300,760 1200,770 1100,600 1060,480" fill="#6a6a64"/><polygon points="960,490 1092,480 1120,640 1200,760 1065,792 960,700 898,600" fill="#242424"/><polygon points="1150,620 1220,640 1240,740 1180,760" fill="#333"/><polygon points="930,300 1100,400 1090,430 920,330" fill="#3a3a3a"/><polygon points="815,830 860,820 975,1250 930,1270" fill="#8a6c42"/><polygon points="1060,1190 1095,1000 1120,1010 1085,1200" fill="#8a6c42"/><polygon points="985,900 1000,900 1005,1050 990,1050" fill="#8d8a7c"/></g></svg>
<span class="t" style="left:2908.78px;top:2133.30px;font-size:27.03px;letter-spacing:-0.121px;color:#8e918f;-webkit-text-stroke:0.22px #8e918f;">Leave a comment</span>
<span class="t" style="left:3473.15px;top:2144.71px;font-size:23.60px;letter-spacing:0.000px;color:#8e918f;-webkit-text-stroke:0.4px #8e918f;">@</span>
</div></div>
</body></html>
